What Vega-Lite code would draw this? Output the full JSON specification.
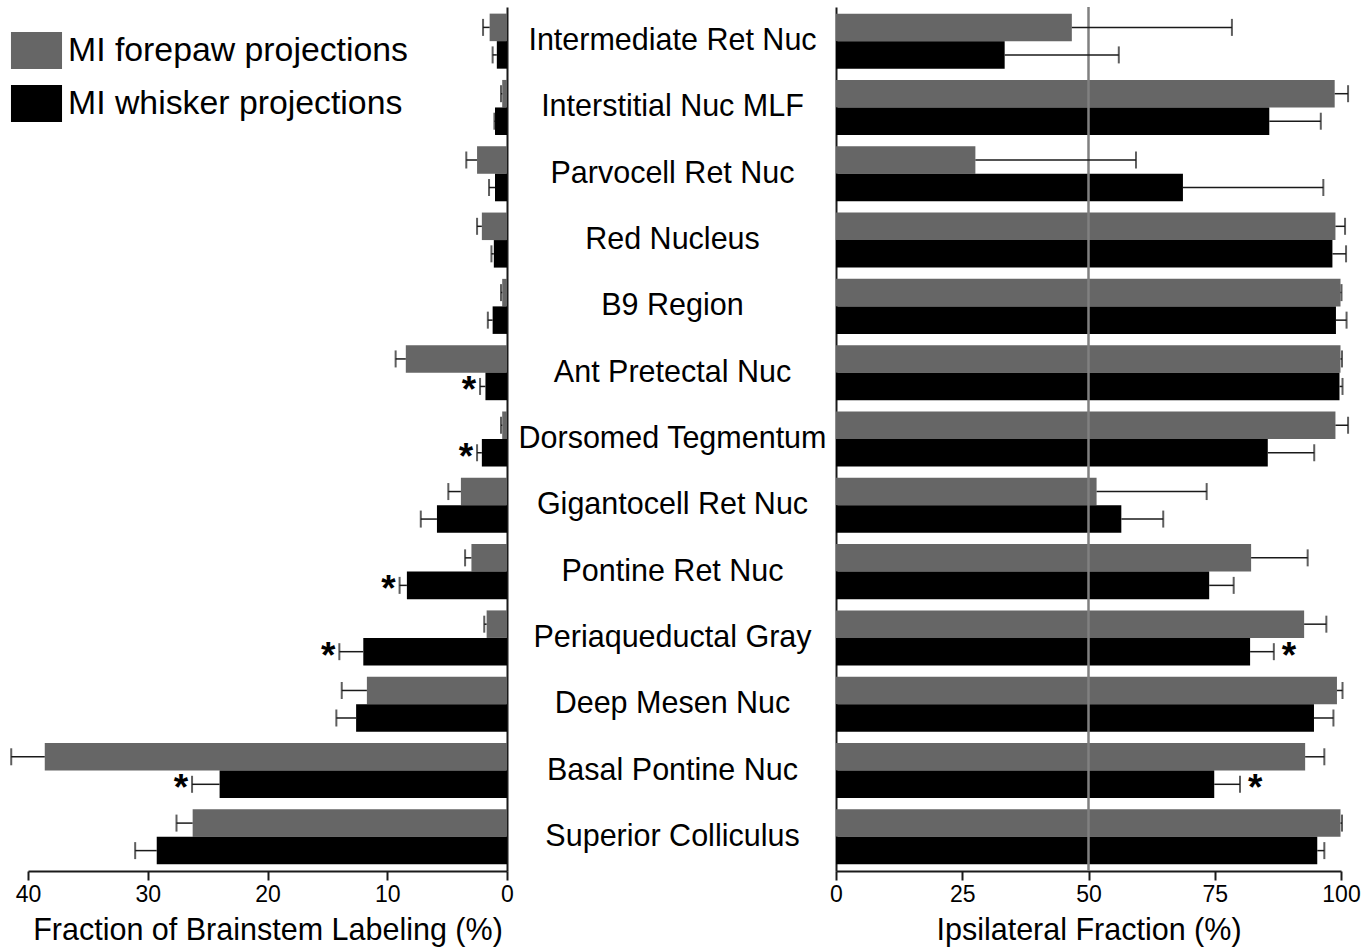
{
  "$schema": "https://vega.github.io/schema/vega-lite/v6.json",
  "background": "white",
  "padding": {"left": 10, "top": 5, "right": 5, "bottom": 5},
  "bounds": "flush",
  "spacing": 329,
  "config": {
    "view": {"stroke": null},
    "font": "Liberation Sans",
    "axis": {
      "domainColor": "#1a1a1a", "domainWidth": 2, "tickColor": "#1a1a1a", "tickWidth": 2, "tickSize": 9,
      "labelFontSize": 23, "labelColor": "black", "labelFont": "Liberation Sans",
      "titleFontSize": 30.5, "titleFontWeight": "normal", "titleColor": "black", "titleFont": "Liberation Sans",
      "grid": false, "labelPadding": 3, "titlePadding": 9, "labelFlush": false
    }
  },
  "datasets": {
    "d": [
      {"region": "Intermediate Ret Nuc", "series": "MI forepaw projections", "frac": 1.45, "fracErr": 2.0, "ipsi": 46.7, "ipsiErr": 78.4, "sigL": "", "sigR": ""},
      {"region": "Intermediate Ret Nuc", "series": "MI whisker projections", "frac": 0.85, "fracErr": 1.2, "ipsi": 33.4, "ipsiErr": 56.0, "sigL": "", "sigR": ""},
      {"region": "Interstitial Nuc MLF", "series": "MI forepaw projections", "frac": 0.4, "fracErr": 0.5, "ipsi": 98.75, "ipsiErr": 101.4, "sigL": "", "sigR": ""},
      {"region": "Interstitial Nuc MLF", "series": "MI whisker projections", "frac": 1.0, "fracErr": 1.05, "ipsi": 85.8, "ipsiErr": 96.0, "sigL": "", "sigR": ""},
      {"region": "Parvocell Ret Nuc", "series": "MI forepaw projections", "frac": 2.5, "fracErr": 3.4, "ipsi": 27.6, "ipsiErr": 59.4, "sigL": "", "sigR": ""},
      {"region": "Parvocell Ret Nuc", "series": "MI whisker projections", "frac": 1.0, "fracErr": 1.5, "ipsi": 68.7, "ipsiErr": 96.5, "sigL": "", "sigR": ""},
      {"region": "Red Nucleus", "series": "MI forepaw projections", "frac": 2.1, "fracErr": 2.5, "ipsi": 98.9, "ipsiErr": 100.8, "sigL": "", "sigR": ""},
      {"region": "Red Nucleus", "series": "MI whisker projections", "frac": 1.1, "fracErr": 1.3, "ipsi": 98.3, "ipsiErr": 101.0, "sigL": "", "sigR": ""},
      {"region": "B9 Region", "series": "MI forepaw projections", "frac": 0.4, "fracErr": 0.5, "ipsi": 99.9, "ipsiErr": 100.1, "sigL": "", "sigR": ""},
      {"region": "B9 Region", "series": "MI whisker projections", "frac": 1.2, "fracErr": 1.6, "ipsi": 99.0, "ipsiErr": 101.1, "sigL": "", "sigR": ""},
      {"region": "Ant Pretectal Nuc", "series": "MI forepaw projections", "frac": 8.45, "fracErr": 9.3, "ipsi": 99.9, "ipsiErr": 100.2, "sigL": "", "sigR": ""},
      {"region": "Ant Pretectal Nuc", "series": "MI whisker projections", "frac": 1.8, "fracErr": 2.25, "ipsi": 99.7, "ipsiErr": 100.3, "sigL": "*", "sigR": ""},
      {"region": "Dorsomed Tegmentum", "series": "MI forepaw projections", "frac": 0.4, "fracErr": 0.5, "ipsi": 98.9, "ipsiErr": 101.4, "sigL": "", "sigR": ""},
      {"region": "Dorsomed Tegmentum", "series": "MI whisker projections", "frac": 2.1, "fracErr": 2.5, "ipsi": 85.5, "ipsiErr": 94.7, "sigL": "*", "sigR": ""},
      {"region": "Gigantocell Ret Nuc", "series": "MI forepaw projections", "frac": 3.85, "fracErr": 4.9, "ipsi": 51.6, "ipsiErr": 73.4, "sigL": "", "sigR": ""},
      {"region": "Gigantocell Ret Nuc", "series": "MI whisker projections", "frac": 5.85, "fracErr": 7.2, "ipsi": 56.5, "ipsiErr": 64.8, "sigL": "", "sigR": ""},
      {"region": "Pontine Ret Nuc", "series": "MI forepaw projections", "frac": 2.97, "fracErr": 3.5, "ipsi": 82.2, "ipsiErr": 93.4, "sigL": "", "sigR": ""},
      {"region": "Pontine Ret Nuc", "series": "MI whisker projections", "frac": 8.36, "fracErr": 8.97, "ipsi": 73.9, "ipsiErr": 78.75, "sigL": "*", "sigR": ""},
      {"region": "Periaqueductal Gray", "series": "MI forepaw projections", "frac": 1.7, "fracErr": 1.9, "ipsi": 92.7, "ipsiErr": 97.1, "sigL": "", "sigR": ""},
      {"region": "Periaqueductal Gray", "series": "MI whisker projections", "frac": 12.0, "fracErr": 14.0, "ipsi": 82.0, "ipsiErr": 86.7, "sigL": "*", "sigR": "*"},
      {"region": "Deep Mesen Nuc", "series": "MI forepaw projections", "frac": 11.7, "fracErr": 13.8, "ipsi": 99.2, "ipsiErr": 100.3, "sigL": "", "sigR": ""},
      {"region": "Deep Mesen Nuc", "series": "MI whisker projections", "frac": 12.6, "fracErr": 14.25, "ipsi": 94.65, "ipsiErr": 98.5, "sigL": "", "sigR": ""},
      {"region": "Basal Pontine Nuc", "series": "MI forepaw projections", "frac": 38.6, "fracErr": 41.4, "ipsi": 92.9, "ipsiErr": 96.7, "sigL": "", "sigR": ""},
      {"region": "Basal Pontine Nuc", "series": "MI whisker projections", "frac": 24.0, "fracErr": 26.3, "ipsi": 74.9, "ipsiErr": 80.0, "sigL": "*", "sigR": "*"},
      {"region": "Superior Colliculus", "series": "MI forepaw projections", "frac": 26.25, "fracErr": 27.6, "ipsi": 99.9, "ipsiErr": 100.2, "sigL": "", "sigR": ""},
      {"region": "Superior Colliculus", "series": "MI whisker projections", "frac": 29.25, "fracErr": 31.05, "ipsi": 95.3, "ipsiErr": 96.7, "sigL": "", "sigR": ""}
    ],
    "ref": [{"ref": 50}]
  },
  "hconcat": [
    {
      "width": 479,
      "height": 864,
      "data": {"name": "d"},
      "encoding": {
        "y": {
          "field": "region", "type": "nominal",
          "sort": ["Intermediate Ret Nuc", "Interstitial Nuc MLF", "Parvocell Ret Nuc", "Red Nucleus", "B9 Region", "Ant Pretectal Nuc", "Dorsomed Tegmentum", "Gigantocell Ret Nuc", "Pontine Ret Nuc", "Periaqueductal Gray", "Deep Mesen Nuc", "Basal Pontine Nuc", "Superior Colliculus"],
          "scale": {"paddingInner": 0.17, "paddingOuter": 0.1},
          "axis": {"orient": "right", "title": null, "ticks": false, "labelAlign": "center", "labelPadding": 165, "labelFontSize": 30.5, "labelLimit": 0, "labelColor": "black"}
        },
        "yOffset": {"field": "series", "type": "nominal", "scale": {"paddingInner": 0, "paddingOuter": 0}}
      },
      "layer": [
        {
          "mark": {"type": "bar"},
          "encoding": {
            "x": {
              "field": "frac", "type": "quantitative",
              "scale": {"domain": [0, 40], "reverse": true, "nice": false, "zero": true},
              "axis": {"values": [0, 10, 20, 30, 40], "title": "Fraction of Brainstem Labeling (%)"}
            },
            "color": {
              "field": "series", "type": "nominal",
              "scale": {"domain": ["MI forepaw projections", "MI whisker projections"], "range": ["#666666", "#000000"]},
              "legend": {
                "orient": "none", "legendX": -10, "legendY": 25, "title": null, "padding": 0,
                "symbolType": "M-1.38,-1H1.38V1H-1.38Z", "symbolSize": 1369, "symbolStrokeWidth": 0,
                "labelFontSize": 33.8, "labelFont": "Liberation Sans", "labelColor": "black",
                "rowPadding": 16, "labelOffset": 13, "labelLimit": 0,
                "encode": {"symbols": {"update": {"fill": {"signal": "datum.value === 'MI forepaw projections' ? '#969696' : '#000000'"}, "opacity": {"value": 1}}}}
              }
            }
          }
        },
        {
          "mark": {"type": "rule", "strokeWidth": 1.5, "color": "#1a1a1a"},
          "encoding": {"x": {"field": "frac", "type": "quantitative"}, "x2": {"field": "fracErr"}}
        },
        {
          "mark": {"type": "tick", "thickness": 2, "size": 17, "color": "#1a1a1a", "orient": "vertical"},
          "encoding": {"x": {"field": "fracErr", "type": "quantitative"}}
        },
        {
          "transform": [{"filter": "datum.sigL !== ''"}],
          "mark": {"type": "text", "align": "right", "baseline": "alphabetic", "dx": -4, "dy": 16, "fontSize": 37, "fontWeight": "bold", "color": "black"},
          "encoding": {"x": {"field": "fracErr", "type": "quantitative"}, "text": {"field": "sigL"}}
        }
      ]
    },
    {
      "width": 505,
      "height": 864,
      "layer": [
        {
          "data": {"name": "d"},
          "mark": {"type": "bar"},
          "encoding": {
            "y": {
              "field": "region", "type": "nominal",
              "sort": ["Intermediate Ret Nuc", "Interstitial Nuc MLF", "Parvocell Ret Nuc", "Red Nucleus", "B9 Region", "Ant Pretectal Nuc", "Dorsomed Tegmentum", "Gigantocell Ret Nuc", "Pontine Ret Nuc", "Periaqueductal Gray", "Deep Mesen Nuc", "Basal Pontine Nuc", "Superior Colliculus"],
              "scale": {"paddingInner": 0.17, "paddingOuter": 0.1},
              "axis": {"orient": "left", "title": null, "ticks": false, "labels": false}
            },
            "yOffset": {"field": "series", "type": "nominal", "scale": {"paddingInner": 0, "paddingOuter": 0}},
            "x": {
              "field": "ipsi", "type": "quantitative",
              "scale": {"domain": [0, 100], "nice": false},
              "axis": {"values": [0, 25, 50, 75, 100], "title": "Ipsilateral Fraction (%)"}
            },
            "color": {"field": "series", "type": "nominal", "legend": null}
          }
        },
        {
          "data": {"name": "ref"},
          "mark": {"type": "rule", "color": "#808080", "strokeWidth": 2.5},
          "encoding": {"x": {"field": "ref", "type": "quantitative"}}
        },
        {
          "data": {"name": "d"},
          "mark": {"type": "rule", "strokeWidth": 1.5, "color": "#1a1a1a"},
          "encoding": {
            "y": {"field": "region", "type": "nominal", "sort": ["Intermediate Ret Nuc", "Interstitial Nuc MLF", "Parvocell Ret Nuc", "Red Nucleus", "B9 Region", "Ant Pretectal Nuc", "Dorsomed Tegmentum", "Gigantocell Ret Nuc", "Pontine Ret Nuc", "Periaqueductal Gray", "Deep Mesen Nuc", "Basal Pontine Nuc", "Superior Colliculus"]},
            "yOffset": {"field": "series", "type": "nominal"},
            "x": {"field": "ipsi", "type": "quantitative"}, "x2": {"field": "ipsiErr"}
          }
        },
        {
          "data": {"name": "d"},
          "mark": {"type": "tick", "thickness": 2, "size": 17, "color": "#1a1a1a", "orient": "vertical"},
          "encoding": {
            "y": {"field": "region", "type": "nominal", "sort": ["Intermediate Ret Nuc", "Interstitial Nuc MLF", "Parvocell Ret Nuc", "Red Nucleus", "B9 Region", "Ant Pretectal Nuc", "Dorsomed Tegmentum", "Gigantocell Ret Nuc", "Pontine Ret Nuc", "Periaqueductal Gray", "Deep Mesen Nuc", "Basal Pontine Nuc", "Superior Colliculus"]},
            "yOffset": {"field": "series", "type": "nominal"},
            "x": {"field": "ipsiErr", "type": "quantitative"}
          }
        },
        {
          "data": {"name": "d"},
          "transform": [{"filter": "datum.sigR !== ''"}],
          "mark": {"type": "text", "align": "left", "baseline": "alphabetic", "dx": 8, "dy": 16, "fontSize": 37, "fontWeight": "bold", "color": "black"},
          "encoding": {
            "y": {"field": "region", "type": "nominal", "sort": ["Intermediate Ret Nuc", "Interstitial Nuc MLF", "Parvocell Ret Nuc", "Red Nucleus", "B9 Region", "Ant Pretectal Nuc", "Dorsomed Tegmentum", "Gigantocell Ret Nuc", "Pontine Ret Nuc", "Periaqueductal Gray", "Deep Mesen Nuc", "Basal Pontine Nuc", "Superior Colliculus"]},
            "yOffset": {"field": "series", "type": "nominal"},
            "x": {"field": "ipsiErr", "type": "quantitative"},
            "text": {"field": "sigR"}
          }
        }
      ]
    }
  ]
}
